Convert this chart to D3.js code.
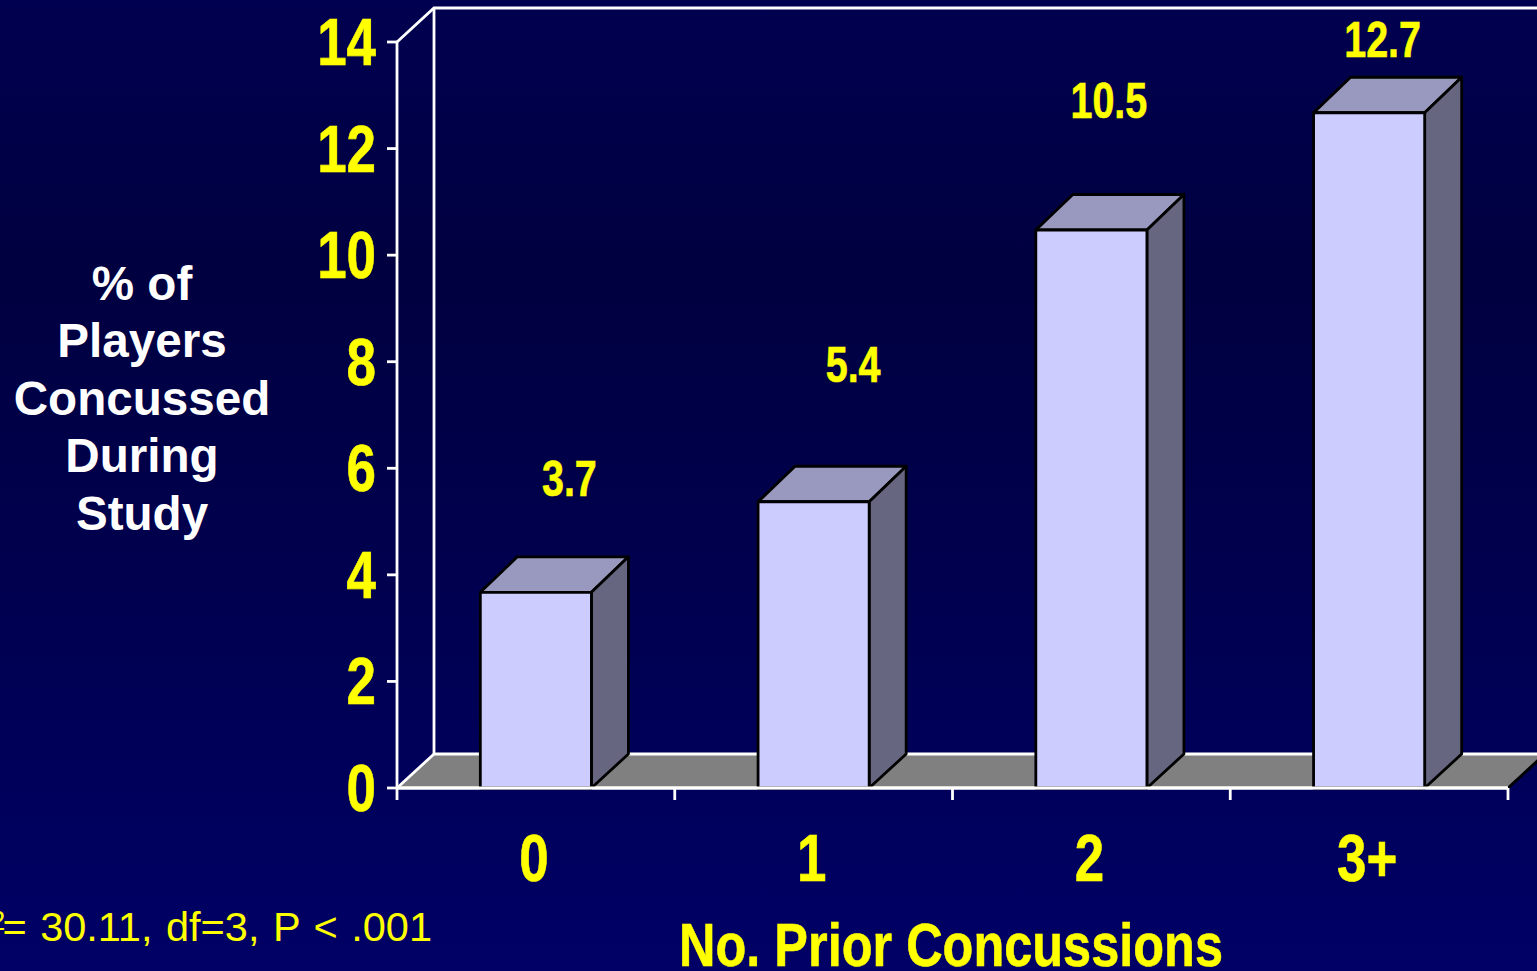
<!DOCTYPE html>
<html>
<head>
<meta charset="utf-8">
<script src="https://cdn.jsdelivr.net/npm/d3@7"></script>
<style>
html,body{margin:0;padding:0;background:#000060;overflow:hidden}
svg{display:block}
text{font-family:"Liberation Sans",Arial,sans-serif}
.narrow{font-weight:700;fill:#ffff00;stroke:#ffff00;stroke-width:0.6}
</style>
</head>
<body>
<svg id="chart" width="1537" height="971"></svg>
<script>
// Chart content
const categories = ["0", "1", "2", "3+"];
const values = [3.7, 5.4, 10.5, 12.7];
const yTicks = [0, 2, 4, 6, 8, 10, 12, 14];
const yTitleLines = ["% of", "Players", "Concussed", "During", "Study"];
const xTitle = "No. Prior Concussions";
const statPrefix = "χ";
const statSup = "2";
const statText = "= 30.11, df=3, P < .001";

// Hand-placed value labels: shift from the front face's top centre
const labelDx = [33.5, 39.5, 17.5, 13.5];
const labelDy = [-95, -118, -111, -54];

// Plot frame and oblique depth
const x0 = 397, x1 = 1508, y0 = 788, y14 = 42;
const depthX = 37, depthY = -34;
// The front face's outline sits just below the nominal top of each bar
const barInset = 1.5;
// Condensed look: bold face squeezed horizontally
const squeeze = 0.79;
const titleSqueeze = 0.814;

const svg = d3.select("#chart");
const defs = svg.append("defs");
const bg = defs.append("linearGradient").attr("id", "bg")
  .attr("x1", 0).attr("y1", 0).attr("x2", 0).attr("y2", 1);
[[0, "#000050"], [0.28, "#000040"], [0.6, "#00004f"], [1, "#000066"]].forEach(([o, c]) =>
  bg.append("stop").attr("offset", o).attr("stop-color", c));
svg.append("rect").attr("width", 1537).attr("height", 971).attr("fill", "url(#bg)");

const y = d3.scaleLinear().domain([0, 14]).range([y0, y14]);
const x = d3.scaleBand().domain(categories).range([x0, x1]).paddingInner(0.6).paddingOuter(0.3);
const xEdges = d3.scaleLinear().domain([0, categories.length]).range([x0, x1]);

// Floor and back wall
const line = d3.line();
svg.append("path")
  .attr("d", line([[x0, y0], [x0 + depthX, y0 + depthY], [x1 + depthX, y0 + depthY], [x1, y0]]) + "Z")
  .attr("fill", "#808080");
svg.append("path")
  .attr("d", line([[x1, y0], [x1 + depthX, y0 + depthY]]))
  .attr("stroke", "#000000").attr("stroke-width", 3).attr("fill", "none");
const wall = [
  [[x0, y14], [x0 + depthX, y14 + depthY], [1537, y14 + depthY]],
  [[x0 + depthX, y14 + depthY], [x0 + depthX, y0 + depthY], [1537, y0 + depthY]],
  [[x0, y0], [x0 + depthX, y0 + depthY]]
];
svg.append("g").selectAll("path").data(wall).join("path")
  .attr("d", d => line(d))
  .attr("stroke", "#ffffff").attr("stroke-width", 2.8).attr("fill", "none");

// Axes
const yAxis = svg.append("g").attr("transform", `translate(${x0},0)`)
  .call(d3.axisLeft(y).offset(0).tickValues(yTicks).tickSize(10).tickFormat("").tickSizeOuter(0));
const xAxis = svg.append("g").attr("transform", `translate(0,${y0})`)
  .call(d3.axisBottom(xEdges).offset(0).ticks(categories.length).tickSize(12).tickFormat("").tickSizeOuter(0));
[yAxis, xAxis].forEach(a => {
  a.selectAll("path,line").attr("stroke", "#ffffff").attr("stroke-width", 2.8);
});

// Bars: front, top and side faces
const bars = svg.append("g").selectAll("g").data(values).join("g");
const bw = x.bandwidth();
const frontTop = d => y(d) + barInset;
const backTop = d => y(d) + depthY;
bars.append("path")
  .attr("d", (d, i) => {
    const l = x(categories[i]);
    return line([[l, frontTop(d)], [l + depthX, backTop(d)], [l + bw + depthX, backTop(d)], [l + bw, frontTop(d)]]) + "Z";
  })
  .attr("fill", "#9999bf");
bars.append("path")
  .attr("d", (d, i) => {
    const r = x(categories[i]) + bw;
    return line([[r, frontTop(d)], [r + depthX, backTop(d)], [r + depthX, y0 + depthY], [r, y0]]) + "Z";
  })
  .attr("fill", "#666680");
bars.append("rect")
  .attr("x", (d, i) => x(categories[i]))
  .attr("y", frontTop)
  .attr("width", bw)
  .attr("height", d => y0 - frontTop(d))
  .attr("fill", "#ccccff");
bars.selectAll("path,rect")
  .attr("stroke", "#000000").attr("stroke-width", 2.8).attr("stroke-linejoin", "round");

// Repaint the baseline over the bar feet
svg.append("path").attr("d", line([[x0, y0], [x1, y0]]))
  .attr("stroke", "#ffffff").attr("stroke-width", 2.8);

// Condensed bold text, squeezed from its anchor point
function narrowText(str, px, py, size, anchor, sx = squeeze) {
  return svg.append("text").attr("class", "narrow")
    .attr("transform", `translate(${px},${py}) scale(${sx},1)`)
    .attr("text-anchor", anchor).attr("font-size", size).text(str);
}

// Y tick labels
yTicks.forEach(v => narrowText(String(v), 376, y(v) + 23, 67, "end"));

// Category labels
categories.forEach(c => narrowText(c, x(c) + bw / 2 - 2, 881, 67, "middle"));

// Value labels
values.forEach((v, i) => narrowText(String(v),
  x(categories[i]) + bw / 2 + labelDx[i], y(v) + labelDy[i], 50, "middle"));

// X axis title
narrowText(xTitle, 951, 966, 62, "middle", titleSqueeze);

// Y axis title
svg.append("g").selectAll("text").data(yTitleLines).join("text")
  .attr("x", 142)
  .attr("y", (d, i) => 299.5 + i * 57.5)
  .attr("text-anchor", "middle")
  .attr("font-size", 47.6)
  .attr("font-weight", 700)
  .attr("fill", "#ffffff")
  .text(d => d);

// Test statistic, running off the left edge
const stat = svg.append("text")
  .attr("x", 432).attr("y", 941)
  .attr("text-anchor", "end")
  .attr("font-size", 41.5)
  .attr("word-spacing", 2)
  .attr("fill", "#ffff00");
stat.append("tspan").text(statPrefix);
stat.append("tspan").attr("dy", -11).attr("font-size", 28).text(statSup);
stat.append("tspan").attr("dy", 11).attr("dx", -3).text(statText);
</script>
</body>
</html>
